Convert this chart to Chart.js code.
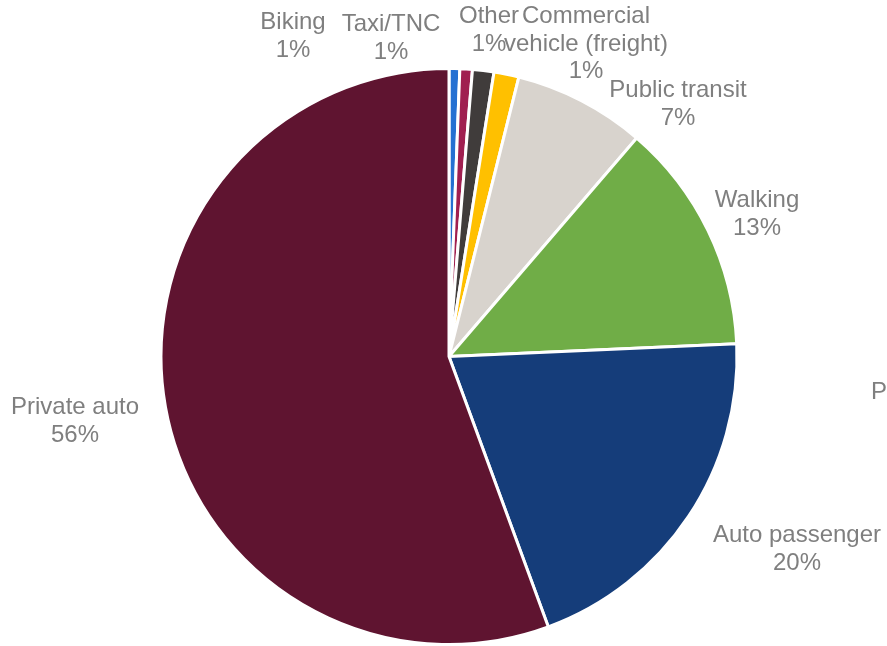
<!DOCTYPE html>
<html>
<head>
<meta charset="utf-8">
<title>Trips by mode</title>
<script src="https://cdn.jsdelivr.net/npm/chart.js@4/dist/chart.umd.min.js"></script>
<style>
  html, body { margin: 0; padding: 0; background: #ffffff; }
  #wrap { width: 887px; height: 646px; overflow: hidden; }
</style>
</head>
<body>
<div id="wrap"><canvas id="modeChart" width="887" height="646"></canvas></div>
<script>
// Mode share, percent of trips
const modes = ["Biking", "Taxi/TNC", "Other", "Commercial vehicle (freight)", "Public transit", "Walking", "Auto passenger", "Private auto"];
const shares = [0.6, 0.7, 1.2, 1.4, 7.4, 13.0, 20.1, 55.6];
const sliceColors = ["#2470D2", "#A01F50", "#403C3B", "#FFC000", "#D8D3CD", "#70AD47", "#153D7A", "#5F1430"];

// Wrapped label text and where each label sits (first-line baseline, centred on x)
const labelLines = {
  "Commercial vehicle (freight)": ["Commercial", "vehicle (freight)"]
};
const labelAnchors = [
  [293, 29], [391, 31], [489, 23], [586, 23],
  [678, 97], [757, 207], [797, 542], [75, 414]
];

const FONT = '24px "Liberation Sans", Arial, Helvetica, sans-serif';
const LINE_H = 27.5;
const TEXT_COLOR = "#7F7F7F";

const outsideLabels = {
  id: "outsideLabels",
  afterDatasetsDraw(chart) {
    const ctx = chart.ctx;
    const ds = chart.data.datasets[0];
    const total = ds.data.reduce((a, b) => a + b, 0);
    ctx.save();
    ctx.font = FONT;
    ctx.fillStyle = TEXT_COLOR;
    ctx.textAlign = "center";
    ctx.textBaseline = "alphabetic";
    chart.data.labels.forEach((name, i) => {
      const pct = Math.round(ds.data[i] / total * 100) + "%";
      const lines = (labelLines[name] || [name]).concat([pct]);
      const [x, y] = labelAnchors[i];
      lines.forEach((t, k) => ctx.fillText(t, x, y + k * LINE_H));
    });
    // legend entry running off the right edge
    ctx.textAlign = "left";
    ctx.fillText("P", 871, 399);
    ctx.restore();
  }
};

new Chart(document.getElementById("modeChart"), {
  type: "pie",
  data: {
    labels: modes,
    datasets: [{
      data: shares,
      backgroundColor: sliceColors,
      borderColor: "#ffffff",
      borderWidth: 3
    }]
  },
  options: {
    responsive: false,
    devicePixelRatio: 1,
    animation: false,
    layout: { padding: { top: 67, bottom: -3, left: 158, right: 147 } },
    plugins: {
      legend: { display: false },
      tooltip: { enabled: false }
    }
  },
  plugins: [outsideLabels]
});
</script>
</body>
</html>
